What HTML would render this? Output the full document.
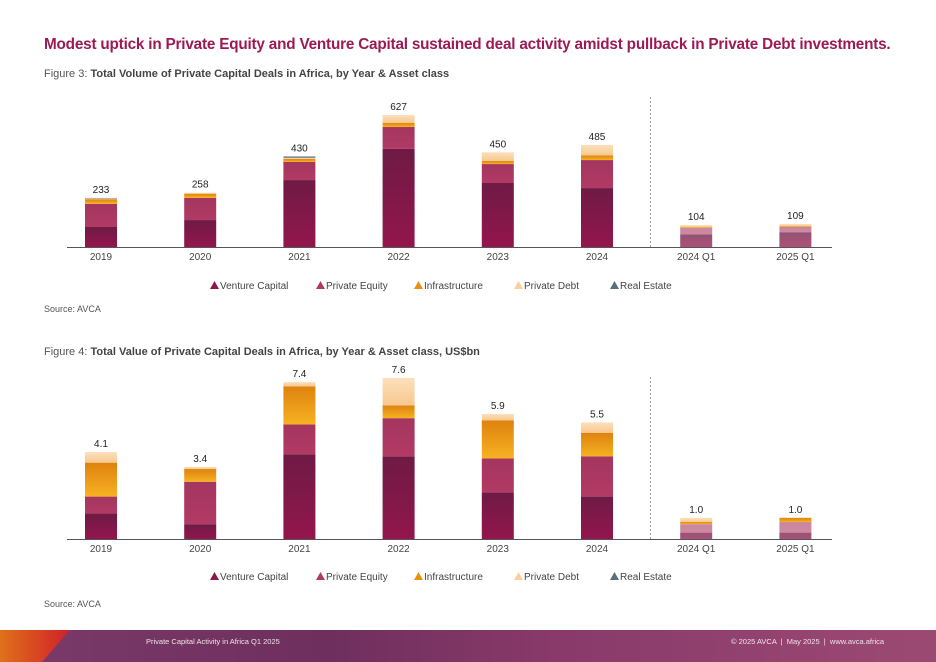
<!DOCTYPE html>
<html><head><meta charset="utf-8">
<style>
body{margin:0;width:936px;height:662px;overflow:hidden;background:#fff;font-family:"Liberation Sans",sans-serif;position:relative}
.t{position:absolute;white-space:nowrap}
</style></head><body>
<div class="t" style="left:44px;top:36px;font-size:15.3px;font-weight:bold;color:#9b1a56;letter-spacing:-0.2px">Modest uptick in Private Equity and Venture Capital sustained deal activity amidst pullback in Private Debt investments.</div>
<div class="t" style="left:44px;top:68px;font-size:11px;color:#555">Figure 3: <b style="color:#444">Total Volume of Private Capital Deals in Africa, by Year &amp; Asset class</b></div>
<div class="t" style="left:44px;top:346px;font-size:11px;color:#555">Figure 4: <b style="color:#444">Total Value of Private Capital Deals in Africa, by Year &amp; Asset class, US$bn</b></div>
<div class="t" style="left:44px;top:304px;font-size:9px;color:#555">Source: AVCA</div>
<div class="t" style="left:44px;top:599px;font-size:9px;color:#555">Source: AVCA</div>
<div style="position:absolute;left:0;top:630px;width:936px;height:32px;background:linear-gradient(90deg,#7a3a6a,#6e2f5e 35%,#8a3a6a 60%,#9a4a72)">
<div style="position:absolute;left:0;top:0;width:70px;height:32px;background:linear-gradient(90deg,#e0701a,#d0202a);clip-path:polygon(0 0,100% 0,60% 100%,0 100%)"></div>
<div class="t" style="left:146px;top:7px;font-size:7.5px;color:#f3e3ec">Private Capital Activity in Africa Q1 2025</div>
<div class="t" style="left:731px;top:7px;font-size:7.5px;color:#f3e3ec">© 2025 AVCA &nbsp;|&nbsp; May 2025 &nbsp;|&nbsp; www.avca.africa</div>
</div>
<svg id="c" width="936" height="662" style="position:absolute;left:0;top:0">
<defs>
<linearGradient id="gVC" x1="0" y1="0" x2="0" y2="1"><stop offset="0" stop-color="#6e1a44"/><stop offset="1" stop-color="#93164d"/></linearGradient>
<linearGradient id="gPE" x1="0" y1="0" x2="0" y2="1"><stop offset="0" stop-color="#a3365f"/><stop offset="1" stop-color="#b23a64"/></linearGradient>
<linearGradient id="gIN" x1="0" y1="0" x2="0" y2="1"><stop offset="0" stop-color="#de820e"/><stop offset="1" stop-color="#f6b222"/></linearGradient>
<linearGradient id="gPD" x1="0" y1="0" x2="0" y2="1"><stop offset="0" stop-color="#fce0bc"/><stop offset="1" stop-color="#f8c88e"/></linearGradient>
</defs>
</svg>
<script>
const categories=["2019","2020","2021","2022","2023","2024","2024 Q1","2025 Q1"];
const volVC=[95,128,318,466,304,280,60,70];
const volPE=[110,105,86,104,90,133,30,25];
const volIN=[22,20,14,20,15,22,4,4];
const volPD=[4,5,6,37,41,50,10,10];
const volRE=[2,0,6,0,0,0,0,0];
const volTotals=["233","258","430","627","450","485","104","109"];
const valVC=[1.2,0.7,4.0,3.9,2.2,2.0,0.3,0.3];
const valPE=[0.8,2.0,1.4,1.8,1.6,1.9,0.4,0.5];
const valIN=[1.6,0.6,1.8,0.6,1.8,1.1,0.1,0.2];
const valPD=[0.5,0.1,0.2,1.3,0.3,0.5,0.2,0.0];
const valRE=[0,0,0,0,0,0,0,0];
const valTotals=["4.1","3.4","7.4","7.6","5.9","5.5","1.0","1.0"];
const legendLabels=["Venture Capital","Private Equity","Infrastructure","Private Debt","Real Estate"];

const svg=document.getElementById('c');
const NS='http://www.w3.org/2000/svg';
const fills=['url(#gVC)','url(#gPE)','url(#gIN)','url(#gPD)','#5a6f80'];
const legCol=['#8a1a4c','#b03a62','#e8900f','#f9cf9a','#5a6f80'];
function mk(t,a){const e=document.createElementNS(NS,t);for(const k in a)e.setAttribute(k,a[k]);svg.appendChild(e);return e;}
function xPos(i){return 101+i*99.2;}
function chart(base,scale,series,totals,id,legY,dashTop){
  const yv=v=>base-v*scale;
  const ax=mk('line',{x1:67,x2:832,y1:base+0.5,y2:base+0.5,stroke:'#555','stroke-width':1});
  
  
  const dl=mk('line',{x1:650.5,x2:650.5,y1:dashTop,y2:base,stroke:'#999','stroke-width':1,'stroke-dasharray':'2,2'});
  
  
  categories.forEach((c,i)=>{
    let cum=0;const x=xPos(i)-16;
    series.forEach((s,k)=>{
      const v=s[i];if(v<=0)return;
      const r=mk('rect',{x:x,y:yv(cum+v),width:32,height:v*scale,fill:fills[k]});
      if(i>=6&&k<2)r.setAttribute('opacity',k==0?0.75:0.6);
      
      
      cum+=v;
    });
    const t=mk('text',{x:xPos(i),y:yv(cum)-5,'text-anchor':'middle','font-size':10,fill:'#222'});
    t.textContent=totals[i];
    
    
    const l=mk('text',{x:xPos(i),y:base+13,'text-anchor':'middle','font-size':10,fill:'#444'});
    l.textContent=c;
    
    
  });
  const lx=[210,316,414,514,610];
  legendLabels.forEach((n,k)=>{
    const x=lx[k];
    const p=mk('polygon',{points:`${x},${legY+4} ${x+4.5},${legY-4} ${x+9},${legY+4}`,fill:legCol[k]});
    
    
    const t=mk('text',{x:x+10,y:legY+4,'font-size':10,fill:'#444'});
    t.textContent=n;
    
    
  });
}
chart(247,0.2105,[volVC,volPE,volIN,volPD,volRE],volTotals,'volume',285,97);
chart(539,21.2,[valVC,valPE,valIN,valPD,valRE],valTotals,'value',576,377);
</script>
</body></html>
